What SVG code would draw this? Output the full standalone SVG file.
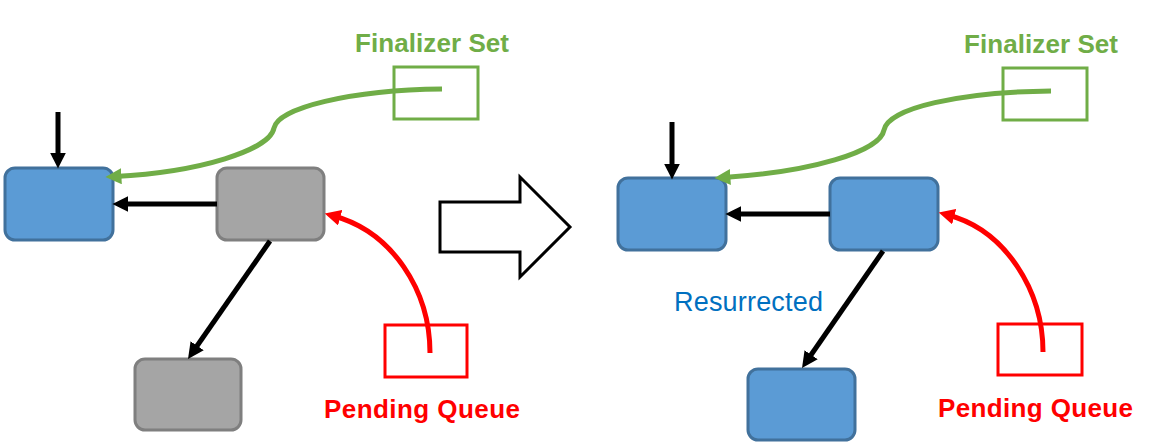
<svg xmlns="http://www.w3.org/2000/svg" width="1149" height="444" viewBox="0 0 1149 444">
<style>
.blue{fill:#5B9BD5;stroke:#41719C;stroke-width:3}
.gray{fill:#A5A5A5;stroke:#7F7F7F;stroke-width:3}
.gset{fill:none;stroke:#70AD47;stroke-width:3}
.rq{fill:none;stroke:#FF0000;stroke-width:3}
.blk{fill:none;stroke:#000;stroke-width:5}
.grn{fill:none;stroke:#70AD47;stroke-width:5}
.red{fill:none;stroke:#FF0000;stroke-width:5}
.lbl{font-family:"Liberation Sans",Arial,sans-serif;font-weight:bold;font-size:26px;text-anchor:middle}
</style>
<defs>
<marker id="hb" viewBox="0 0 10 10" refX="4" refY="5" markerWidth="16" markerHeight="16" markerUnits="userSpaceOnUse" orient="auto"><path d="M0,0 L10,5 L0,10 z" fill="#000"/></marker>
<marker id="hg" viewBox="0 0 10 10" refX="4" refY="5" markerWidth="16" markerHeight="16" markerUnits="userSpaceOnUse" orient="auto"><path d="M0,0 L10,5 L0,10 z" fill="#70AD47"/></marker>
<marker id="hr" viewBox="0 0 10 10" refX="4" refY="5" markerWidth="16" markerHeight="16" markerUnits="userSpaceOnUse" orient="auto"><path d="M0,0 L10,5 L0,10 z" fill="#FF0000"/></marker>
</defs>

<g id="left-root"><rect class="blue" x="5" y="168" width="108" height="72" rx="10"/></g>
<g id="left-obj1"><rect class="gray" x="217" y="168" width="107" height="72" rx="10"/></g>
<g id="left-obj2"><rect class="gray" x="135" y="359" width="106" height="71" rx="10"/></g>
<g id="left-finalizer-set"><rect class="gset" x="394" y="67" width="84" height="52"/><text class="lbl" x="432" y="52" fill="#70AD47" textLength="154">Finalizer Set</text></g>
<g id="left-pending-queue"><rect class="rq" x="385" y="325" width="82" height="52"/><text class="lbl" x="422" y="418" fill="#FF0000" textLength="196">Pending Queue</text></g>

<g id="transition"><polygon points="440,202 520,202 520,177 570,227 520,277 520,252 440,252" fill="#fff" stroke="#000" stroke-width="3"/></g>

<g id="right-root"><rect class="blue" x="618" y="178" width="108" height="72" rx="10"/></g>
<g id="right-obj1"><rect class="blue" x="830" y="178" width="108" height="72" rx="10"/></g>
<g id="right-obj2"><rect class="blue" x="748" y="369" width="107" height="71" rx="10"/></g>
<g id="right-finalizer-set"><rect class="gset" x="1003" y="68" width="84" height="52"/><text class="lbl" x="1041" y="53" fill="#70AD47" textLength="154">Finalizer Set</text></g>
<g id="right-pending-queue"><rect class="rq" x="998" y="324" width="84" height="51"/><text class="lbl" x="1035.5" y="417" fill="#FF0000" textLength="195">Pending Queue</text></g>
<g id="resurrected-label"><text x="674" y="311" font-family="'Liberation Sans',Arial,sans-serif" font-size="27" fill="#0070C0" textLength="149">Resurrected</text></g>

<g id="connectors">
<path class="blk" d="M58,112 L58,159" marker-end="url(#hb)"/>
<path class="blk" d="M217,204 L122,204" marker-end="url(#hb)"/>
<path class="blk" d="M270,241 L193.5,351" marker-end="url(#hb)"/>
<path class="grn" d="M442,89 C350,90 278,108 274,128 C270,150 200,172 115,176.5" marker-end="url(#hg)"/>
<path class="red" d="M430,353 C430,290 392,232 334,216" marker-end="url(#hr)"/>

<path class="blk" d="M672,122 L672,170" marker-end="url(#hb)"/>
<path class="blk" d="M830,214 L735,214" marker-end="url(#hb)"/>
<path class="blk" d="M883,251 L807.5,360" marker-end="url(#hb)"/>
<path class="grn" d="M1051,91 C960,92 888,108 884,130 C880,152 810,172 724,177.5" marker-end="url(#hg)"/>
<path class="red" d="M1043,352 C1043,290 1005,230 948,215" marker-end="url(#hr)"/>
</g>
</svg>
